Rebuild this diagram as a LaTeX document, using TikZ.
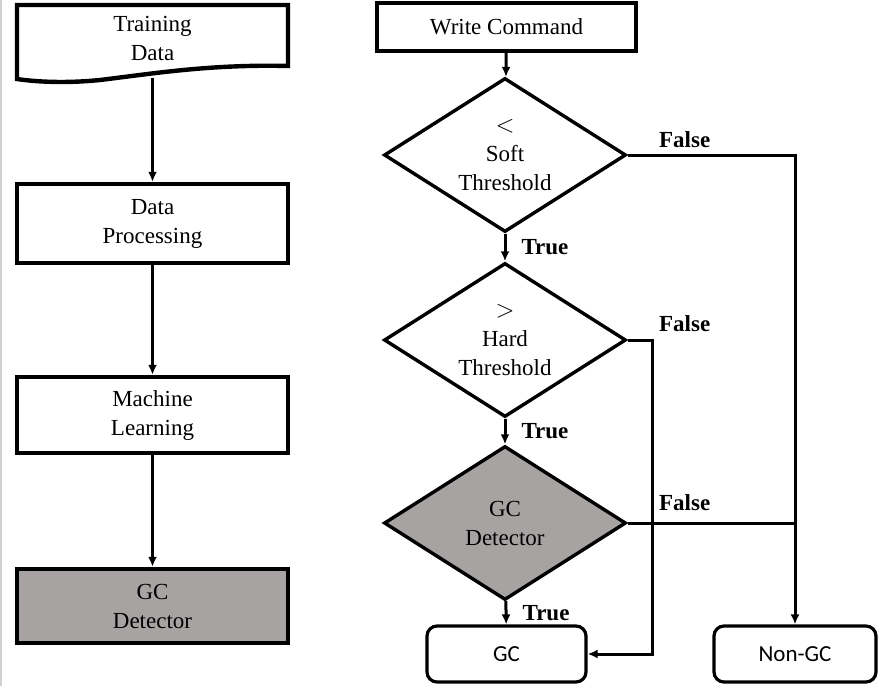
\documentclass[tikz,border=0pt]{standalone}
\usepackage{fontspec}
\setmainfont{Liberation Serif}
\newfontfamily\boxfont{Carlito}
\usepackage{tikz}
\usetikzlibrary{shapes.geometric, arrows.meta, positioning, calc}
\definecolor{DetectGray}{HTML}{A7A3A3}
\definecolor{FrameGray}{HTML}{D0D0D0}

\begin{document}
\begin{tikzpicture}[x=1pt, y=-1pt, every node/.style={font=\fontsize{23}{29}\selectfont}]
      \tikzset{
        proc/.style={rectangle, draw=black, line width=4.4pt, fill=white, minimum width=271pt, align=center, inner sep=0pt},
        dec/.style={diamond, draw=black, line width=3.4pt, fill=white, minimum width=242pt, minimum height=154pt, aspect=1.57, align=center, inner sep=0pt},
        term/.style={rectangle, rounded corners=10pt, draw=black, line width=3.2pt, fill=white, minimum height=56pt, font=\boxfont\fontsize{23}{29}\selectfont},
        lbl/.style={font=\bfseries\fontsize{23}{29}\selectfont},
        line/.style={-{Latex[length=10pt, width=9pt]}, line width=3pt}
      }
      \useasboundingbox (0,0) rectangle (886,686);
      \draw[FrameGray, line width=1.5pt] (1,0) -- (1,686);

      % left column: training flow
      \node[minimum width=271pt, minimum height=66pt, inner sep=0pt, align=center] (train) at (152.5,38) {Training\\Data};
      \draw[line width=4.4pt, line join=miter] (17,79) -- (17,5) -- (288,5) -- (288,66)
        .. controls (210,64) and (150,74) .. (100,80) .. controls (60,84) and (30,81) .. cycle;
      \coordinate (trainbot) at (152.5,78);
      \node[proc, minimum height=79pt] (dataproc) at (152.5,223.5) {Data\\Processing};
      \node[proc, minimum height=76pt] (ml) at (152.5,415) {Machine\\Learning};
      \node[proc, minimum height=74pt, fill=DetectGray] (gcleft) at (152.5,606) {GC\\Detector};

      \draw[line] (trainbot) -- (dataproc);
      \draw[line] (dataproc) -- (ml);
      \draw[line] (ml) -- (gcleft);

      % right column: decision flow
      \node[proc, minimum width=259pt, minimum height=48pt] (cmd) at (506.5,27) {Write Command};
      \node[dec] (soft) at (505,155) {$<$\\Soft\\Threshold};
      \node[dec] (hard) at (505,340) {$>$\\Hard\\Threshold};
      \node[dec, fill=DetectGray] (gcdet) at (505,523) {GC\\Detector};
      \node[term, minimum width=159pt] (gc) at (506.5,654) {GC};
      \node[term, minimum width=162pt] (nongc) at (795,654) {Non-GC};
      \coordinate (join) at (nongc.north |- gcdet.east);

      \draw[line] (cmd) -- (soft);
      \draw[line] (soft) -- (hard) node[lbl, midway, xshift=40pt] {True};
      \draw[line] (hard) -- (gcdet) node[lbl, midway, xshift=40pt] {True};
      \draw[line] (gcdet) -- (gc) node[lbl, midway, xshift=40pt] {True};
      \draw[line] (soft.east) -| (nongc.north) node[lbl, pos=0, xshift=57pt, yshift=15pt] {False};
      \draw[line] (hard.east) -- ++(25,0) node[lbl, pos=0, xshift=57pt, yshift=16pt] {False} |- (gc.east);
      \draw[line width=3pt] (gcdet.east) -- (join) node[lbl, pos=0, xshift=57pt, yshift=20pt] {False};
    \end{tikzpicture}
\end{document}
